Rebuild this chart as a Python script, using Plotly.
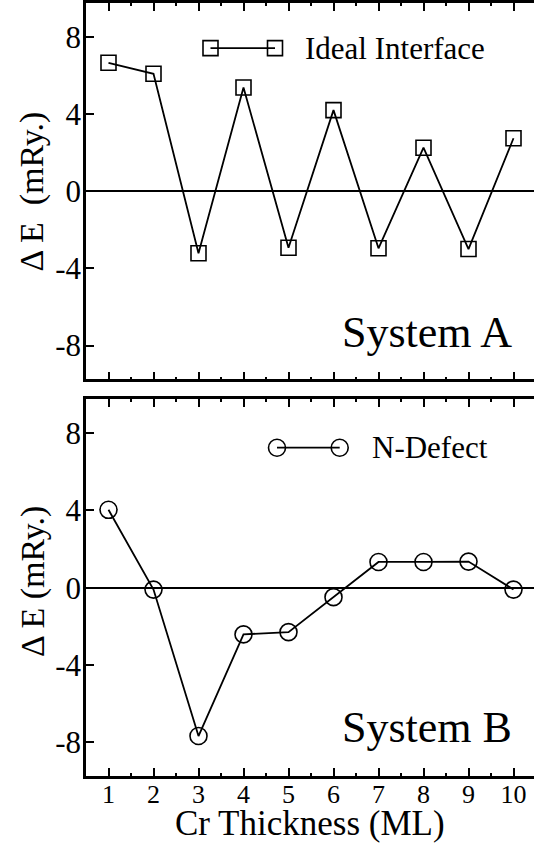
import plotly.graph_objects as go

# Cr spacer thickness in monolayers
thickness = [1, 2, 3, 4, 5, 6, 7, 8, 9, 10]

# Energy difference (mRy.) for each system
ideal_interface = [6.65, 6.08, -3.22, 5.37, -2.93, 4.20, -2.96, 2.25, -3.00, 2.74]
n_defect = [4.03, -0.10, -7.68, -2.42, -2.30, -0.49, 1.33, 1.33, 1.35, -0.10]

# Axis ticks
y_tickvals = [-8, -4, 0, 4, 8]
y_ticktext = ["-8", "-4", "0", "4", "8"]
x_ticktext = [str(v) for v in thickness]

SERIF = "Liberation Serif, Times New Roman, serif"
BLACK = "black"
Y_RANGE = [-9.75, 9.75]
X_RANGE = [0.5, 0.5 + 448 / 45]

fig = go.Figure()

fig.add_trace(go.Scatter(
    x=thickness, y=ideal_interface, mode="lines+markers",
    line=dict(color=BLACK, width=1.8),
    marker=dict(symbol="square-open", size=15, color=BLACK, line=dict(width=1.6, color=BLACK)),
    xaxis="x", yaxis="y", showlegend=False, name="Ideal Interface",
))
fig.add_trace(go.Scatter(
    x=thickness, y=n_defect, mode="lines+markers",
    line=dict(color=BLACK, width=1.8),
    marker=dict(symbol="circle-open", size=17, color=BLACK, line=dict(width=1.6, color=BLACK)),
    xaxis="x2", yaxis="y2", showlegend=False, name="N-Defect",
))


def x_axis(anchor, labels):
    return dict(
        domain=[0, 1], anchor=anchor, range=X_RANGE, autorange=False,
        tickmode="array", tickvals=thickness, ticktext=x_ticktext,
        showticklabels=labels, ticks="inside", ticklen=8, tickwidth=1.5, tickcolor=BLACK,
        ticklabelstandoff=-7,
        minor=dict(ticks="inside", ticklen=3, tickwidth=1.5, tickcolor=BLACK, dtick=0.5, tick0=0),
        showline=True, linewidth=2.5, linecolor=BLACK, mirror="ticks",
        showgrid=False, zeroline=False,
        tickfont=dict(family=SERIF, size=26, color=BLACK),
    )


def y_axis(anchor, domain):
    return dict(
        domain=domain, anchor=anchor, range=Y_RANGE, autorange=False,
        tickmode="array", tickvals=y_tickvals, ticktext=y_ticktext,
        ticks="inside", ticklen=8, tickwidth=1.5, tickcolor=BLACK,
        ticklabelstandoff=-4,
        showline=True, linewidth=2.5, linecolor=BLACK, mirror=False,
        showgrid=False, zeroline=True, zerolinecolor=BLACK, zerolinewidth=1.8,
        tickfont=dict(family=SERIF, size=31, color=BLACK),
    )


def right_ticks(overlay, anchor):
    return dict(
        overlaying=overlay, side="right", anchor=anchor, range=Y_RANGE, autorange=False,
        tickmode="array", tickvals=y_tickvals, showticklabels=False,
        ticks="inside", ticklen=8, tickwidth=1.5, tickcolor=BLACK,
        showline=False, showgrid=False, zeroline=False,
    )


TOP = [0.5132, 1.0]
BOTTOM = [0.0, 0.4873]

fig.update_layout(
    width=534, height=845,
    margin=dict(l=86, r=0, t=3, b=69),
    paper_bgcolor="white", plot_bgcolor="white",
    font=dict(family=SERIF, color=BLACK),
    xaxis=x_axis("y", False),
    yaxis=y_axis("x", TOP),
    xaxis2=x_axis("y2", True),
    yaxis2=y_axis("x2", BOTTOM),
    yaxis3=right_ticks("y", "x"),
    yaxis4=right_ticks("y2", "x2"),
)

annotations = [
    dict(text="\u0394 E  (mRy.)", textangle=-90, xref="paper", x=0, xshift=-53.6,
         yref="y domain", y=0.5, xanchor="center", yanchor="middle",
         showarrow=False, font=dict(family=SERIF, size=34)),
    dict(text="\u0394 E (mRy.)", textangle=-90, xref="paper", x=0, xshift=-53.6,
         yref="y2 domain", y=0.5, yshift=6, xanchor="center", yanchor="middle",
         showarrow=False, font=dict(family=SERIF, size=34)),
    dict(text="Cr Thickness (ML)", xref="paper", x=0.5, yref="paper", y=0, yshift=-47,
         xanchor="center", yanchor="middle", showarrow=False, font=dict(family=SERIF, size=35)),
    dict(text="System A", xref="x", x=10, yref="y", y=-7.34, xanchor="right", yanchor="middle",
         showarrow=False, font=dict(family=SERIF, size=44)),
    dict(text="System B", xref="x2", x=10, yref="y2", y=-7.23, xanchor="right", yanchor="middle",
         showarrow=False, font=dict(family=SERIF, size=44)),
    dict(text="Ideal Interface", xref="x domain", x=(303 - 86) / 448, yref="y domain", y=0.879,
         xanchor="left", yanchor="middle", showarrow=False, font=dict(family=SERIF, size=31)),
    dict(text="N-Defect", xref="x2 domain", x=(369.7 - 86) / 448, yref="y2 domain", y=0.872,
         xanchor="left", yanchor="middle", showarrow=False, font=dict(family=SERIF, size=31)),
]

# Legend keys: a line with a marker at each end
shapes = []
for xr, yr, xs, yk, kind, size in [
    ("x domain", "y domain", [(210.5 - 86) / 448, (275 - 86) / 448], 0.880, "rect", 15),
    ("x2 domain", "y2 domain", [(277 - 86) / 448, (339.7 - 86) / 448], 0.8715, "circle", 17),
]:
    shapes.append(dict(type="line", xref=xr, yref=yr, x0=xs[0], x1=xs[1], y0=yk, y1=yk,
                       line=dict(color=BLACK, width=1.8)))
    for xc in xs:
        shapes.append(dict(type=kind, xref=xr, yref=yr, xsizemode="pixel", ysizemode="pixel",
                           xanchor=xc, yanchor=yk, x0=-size / 2, x1=size / 2,
                           y0=-size / 2, y1=size / 2, line=dict(color=BLACK, width=1.6)))

fig.update_layout(annotations=annotations, shapes=shapes)

fig.write_html("out.html")
